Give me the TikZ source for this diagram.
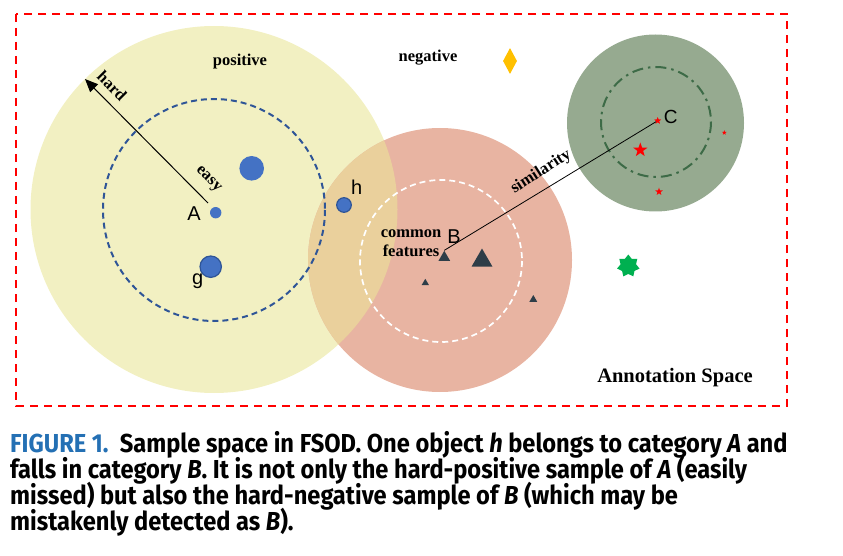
\documentclass[tikz,border=0pt]{standalone}
\usepackage{fontspec}
\setmainfont{Liberation Serif}
\newfontfamily\lsans{Liberation Sans}
\newfontfamily\capfont[FakeStretch=0.91]{Fira Sans}
\usetikzlibrary{shapes.geometric,arrows.meta}
\definecolor{yel}{HTML}{F2F0C2}
\definecolor{pnk}{HTML}{E8B4A2}
\definecolor{ovl}{HTML}{EAD09C}
\definecolor{grn}{HTML}{96AA90}
\definecolor{dgrn}{HTML}{3D6B47}
\definecolor{bdot}{HTML}{4472C4}
\definecolor{bline}{HTML}{2F5597}
\definecolor{tri}{HTML}{2E3D48}
\definecolor{capblue}{HTML}{2470B4}
\definecolor{gstar}{HTML}{00B050}
\definecolor{dia}{HTML}{FFC000}
\tikzset{
  ann/.style={font=\fontsize{16.5}{19}\selectfont\bfseries, inner sep=0pt, align=center},
  lab/.style={font=\lsans\fontsize{20}{22}\selectfont, inner sep=0pt},
  bdotst/.style={circle, fill=bdot, inner sep=0pt},
  trist/.style={regular polygon, regular polygon sides=3, fill=tri, inner sep=0pt},
  rstar/.style={star, star points=5, star point ratio=2.5, fill=red, inner sep=0pt},
  capl/.style={anchor=base west, inner sep=0pt, font=\capfont\fontsize{26}{26}\selectfont\bfseries},
}
\begin{document}
\begin{tikzpicture}[x=1pt,y=-1pt]
\useasboundingbox (0,0) rectangle (843,556);
% circles
\fill[yel] (214,209.5) circle (183.5);
\fill[pnk] (440,260) circle (132);
\begin{scope}
  \clip (214,209.5) circle (183.5);
  \fill[ovl] (440,260) circle (132);
\end{scope}
\fill[grn] (655.5,123) circle (88.5);
% inner circles
\draw[bline, line width=2pt, dash pattern=on 6pt off 4pt] (214,210) circle (111);
\draw[white, line width=1.7pt, dash pattern=on 6pt off 4pt] (441,261) circle (81);
\draw[dgrn, line width=2pt, dash pattern=on 11pt off 5pt on 2.5pt off 5pt] (656,122) circle (55);
% border
\draw[red, line width=2.2pt, dash pattern=on 8pt off 6pt] (16,14) rectangle (787,406);
% hard arrow
\coordinate (hardS) at (208,203);
\coordinate (hardE) at (85,79);
\draw[line width=1pt, -{Triangle[length=13pt,width=11pt]}] (hardS) -- (hardE);
\node[ann, rotate=-45] (hard) at (112,86) {hard};
\node[ann, rotate=-45] (easy) at (208,180) {easy};
% text
\node[ann] (pos) at (240,62) {positive};
\node[ann] (neg) at (428,58) {negative};
\node[diamond, fill=dia, inner sep=0pt, minimum width=14pt, minimum height=26pt] (dm) at (510,61) {};
% blue dots
\node[bdotst, minimum size=11.4pt] (Adot) at (215.7,212.7) {};
\node[bdotst, minimum size=24.6pt] (bigdot) at (251.7,168.3) {};
\node[bdotst, draw=bline, line width=1.2pt, minimum size=21.4pt] (gdot) at (210.7,266.7) {};
\node[bdotst, draw=bline, line width=1.2pt, minimum size=14.6pt] (hdot) at (344,205) {};
\node[lab] (A) at (194,214) {A};
\node[lab] (g) at (197.7,281) {g};
\node[lab] (h) at (356.7,187) {h};
\node[lab] (B) at (454,237) {B};
\node[lab, font=\lsans\fontsize{19}{20}\selectfont] (C) at (670.7,117.3) {C};
% B region
\node[ann] (cf) at (411,243) {common\\features};
\node[trist, minimum size=13.5pt] (tB) at (444.3,257.5) {};
\node[trist, minimum size=24pt] (tbig) at (482,260.5) {};
\node[trist, minimum size=8.5pt] (ts1) at (425.3,283) {};
\node[trist, minimum size=9pt] (ts2) at (533.3,299.5) {};
% stars C
\node[rstar, minimum size=7pt] (sC) at (657.7,120.7) {};
\draw[line width=0.8pt] (tB.north) -- (sC.center);
\node[rstar, minimum size=7pt] at (657.7,120.7) {};
\node[rstar, minimum size=15pt] (s1) at (640.3,150) {};
\node[rstar, minimum size=5pt] (s2) at (724.3,132.7) {};
\node[rstar, minimum size=8pt] (s3) at (659,191.7) {};
\node[ann, rotate=32.6] (sim) at (541,172) {similarity};
% green star
\node[star, star points=7, star point ratio=1.45, fill=gstar, inner sep=0pt, minimum size=23pt] (gs) at (628.3,266) {};
\node[ann, font=\fontsize{20.5}{22}\selectfont\bfseries] (as) at (675,377.3) {Annotation Space};
% caption
\node[capl] (c1) at (10,452) {\textcolor{capblue}{FIGURE 1.}\ \ Sample space in FSOD. One object \textit{h} belongs to category \textit{A} and};
\node[capl] (c2) at (10,478) {falls in category \textit{B}. It is not only the hard-positive sample of \textit{A} (easily};
\node[capl] (c3) at (10,504) {missed) but also the hard-negative sample of \textit{B} (which may be};
\node[capl] (c4) at (10,530) {mistakenly detected as \textit{B}).};
\end{tikzpicture}
\end{document}
